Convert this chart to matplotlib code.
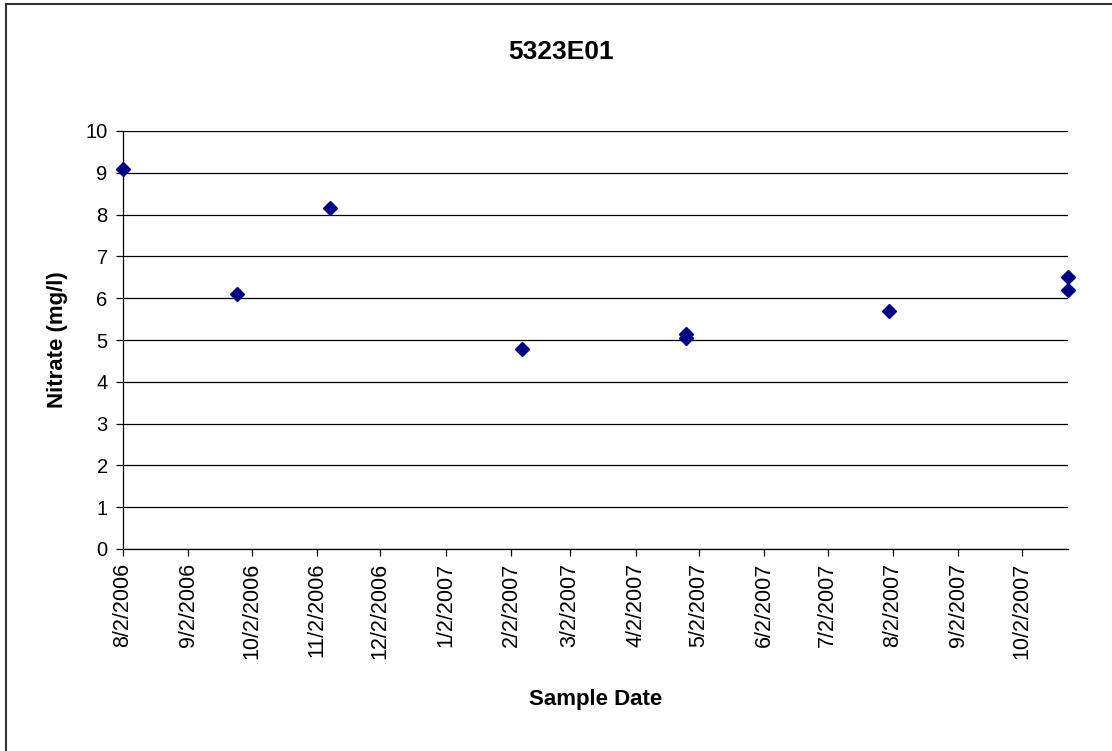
import matplotlib
matplotlib.use('Agg')
import matplotlib.pyplot as plt
from matplotlib.lines import Line2D
import pandas as pd

# sample data
sample_dates = ['2006-08-02', '2006-09-25', '2006-11-08', '2007-02-07',
                '2007-04-26', '2007-04-26', '2007-07-31', '2007-10-24', '2007-10-24']
nitrate = [9.1, 6.1, 8.15, 4.78, 5.15, 5.04, 5.7, 6.5, 6.2]
tick_labels = ['8/2/2006', '9/2/2006', '10/2/2006', '11/2/2006', '12/2/2006',
               '1/2/2007', '2/2/2007', '3/2/2007', '4/2/2007', '5/2/2007',
               '6/2/2007', '7/2/2007', '8/2/2007', '9/2/2007', '10/2/2007']
y_ticks = list(range(0, 11))

plt.rcParams['font.family'] = ['Liberation Sans', 'DejaVu Sans']

W, H = 1112, 751
fig = plt.figure(figsize=(W / 100, H / 100), dpi=100)
ax = fig.add_axes([123 / W, 1 - 549 / H, (1068 - 123) / W, (549 - 131) / H])

x = pd.to_datetime(sample_dates)
ax.plot(x, nitrate, linestyle='none', marker='D', ms=7.2,
        color='#000080', mec='#000080', zorder=3, clip_on=False)

ticks = pd.to_datetime(tick_labels, format='%m/%d/%Y')
ax.set_xticks(ticks)
ax.set_xticklabels(tick_labels, rotation=90, fontsize=15.5)
ax.set_xlim(ticks[0], x.max())
ax.set_ylim(0, 10)
ax.set_yticks(y_ticks)
ax.set_yticklabels([str(v) for v in y_ticks], fontsize=14.5)

ax.grid(axis='y', color='black', linewidth=0.9)
ax.set_axisbelow(True)
for s in ['top', 'right']:
    ax.spines[s].set_visible(False)
for s in ['left', 'bottom']:
    ax.spines[s].set_color('black')
    ax.spines[s].set_linewidth(0.9)
ax.tick_params(axis='both', direction='out', length=5, width=0.9, color='black')
ax.tick_params(axis='x', pad=5)
ax.tick_params(axis='y', pad=6)

fig.text(561 / W, 1 - 52 / H, '5323E01', ha='center', va='center',
         fontsize=19, fontweight='bold')
fig.text(58 / W, 1 - 340 / H, 'Nitrate (mg/l)', ha='center', va='center',
         rotation=90, fontsize=16, fontweight='bold')
fig.text(596 / W, 1 - 700 / H, 'Sample Date', ha='center', va='center',
         fontsize=16, fontweight='bold')

# chart area border (only left and top edges visible)
fig.add_artist(Line2D([6 / W, 6 / W], [0, 1 - 4 / H], transform=fig.transFigure,
                      color='#333333', linewidth=1.5))
fig.add_artist(Line2D([6 / W, 1], [1 - 4 / H, 1 - 4 / H], transform=fig.transFigure,
                      color='#333333', linewidth=1.5))

fig.savefig('out.png', dpi=100)
